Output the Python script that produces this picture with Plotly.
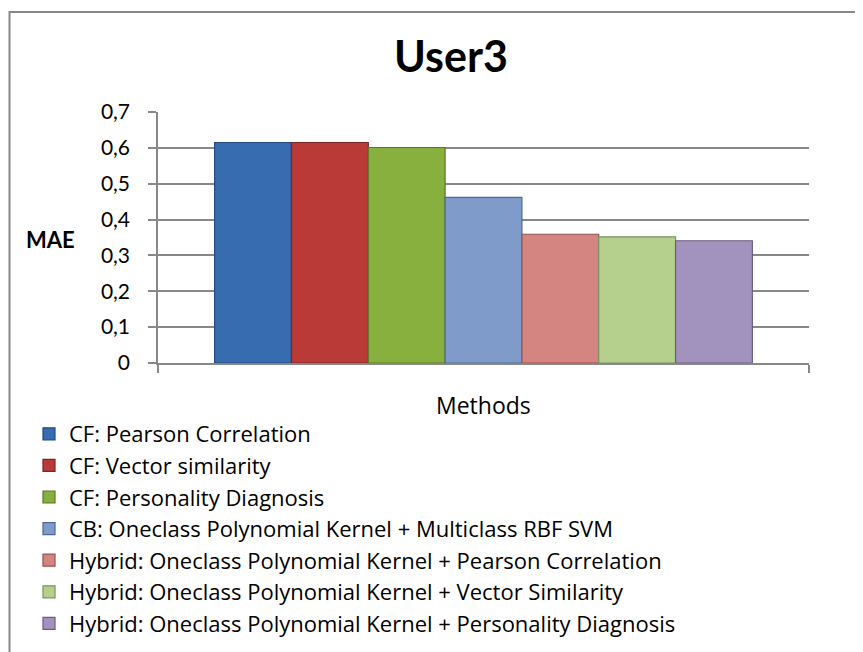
import plotly.graph_objects as go

# Data
METHODS = [
    "CF: Pearson Correlation",
    "CF: Vector similarity",
    "CF: Personality Diagnosis",
    "CB: Oneclass Polynomial Kernel + Multiclass RBF SVM",
    "Hybrid: Oneclass Polynomial Kernel + Pearson Correlation",
    "Hybrid: Oneclass Polynomial Kernel + Vector Similarity",
    "Hybrid: Oneclass Polynomial Kernel + Personality Diagnosis",
]
MAE = [0.615, 0.615, 0.601, 0.462, 0.359, 0.352, 0.341]
Y_TICKS = [0, 0.1, 0.2, 0.3, 0.4, 0.5, 0.6, 0.7]
Y_TICK_TEXT = ["0", "0,1", "0,2", "0,3", "0,4", "0,5", "0,6", "0,7"]

FILLS = ["#386cb0", "#b93a36", "#88b03e", "#7e9bc9", "#d48481", "#b5d08d", "#a192be"]
EDGES = ["#24487a", "#7c2422", "#5a7727", "#50688f", "#94524f", "#7b9460", "#6a5d85"]

GRID = "#888888"
FONT = "Lato, 'Open Sans', sans-serif"
LEG_FONT = "'Open Sans', Lato, sans-serif"

# page is shown with the browser's 8px body margin, so work in page pixels
# and subtract the offset
W, H = 863, 652
OFF = 8
L, R, T, B = 158 - OFF, 809 - OFF, 112 - OFF, 363 - OFF


def px_x(x):
    return (x - OFF - L) / (R - L)


def px_y(y):
    return (B - (y - OFF)) / (B - T)


fig = go.Figure()
for name, val, fill, edge in zip(METHODS, MAE, FILLS, EDGES):
    fig.add_trace(go.Bar(
        x=[0], y=[val], name=name,
        marker=dict(color=fill, line=dict(color=edge, width=1.2)),
        hovertemplate=name + ": %{y:.3f}<extra></extra>",
    ))

# outer chart frame (left and top edges visible, rest runs off the page)
fig.add_shape(
    type="rect", xref="paper", yref="paper",
    x0=px_x(9.5), x1=px_x(W + 40), y0=px_y(H + 40), y1=px_y(12),
    line=dict(color=GRID, width=2), fillcolor="rgba(0,0,0,0)", layer="below",
)

fig.add_annotation(
    text="<b>MAE</b>", xref="paper", yref="paper",
    x=px_x(50), y=px_y(239), showarrow=False,
    xanchor="center", yanchor="middle",
    font=dict(family=FONT, size=22, color="#000000"),
)
fig.add_annotation(
    text="Methods", xref="paper", yref="paper",
    x=0.5, y=px_y(405), showarrow=False,
    xanchor="center", yanchor="middle",
    font=dict(family=LEG_FONT, size=23, color="#000000"),
)

fig.update_layout(
    width=W, height=H,
    paper_bgcolor="#ffffff", plot_bgcolor="#ffffff",
    font=dict(family=FONT, color="#000000"),
    margin=dict(l=L, r=W - R, t=T, b=H - B, autoexpand=False),
    title=dict(
        text="<b>User3</b>", xref="container", yref="container",
        x=(451 - OFF) / W, y=1 - (57 - OFF) / H, xanchor="center", yanchor="middle",
        font=dict(family=FONT, size=43, color="#000000"),
    ),
    barmode="group", bargap=0.174, bargroupgap=0,
    showlegend=True,
    legend=dict(
        x=px_x(29), y=px_y(413), xanchor="left", yanchor="top",
        bgcolor="rgba(0,0,0,0)", borderwidth=0,
        font=dict(family=LEG_FONT, size=22, color="#000000"),
        tracegroupgap=0, traceorder="normal",
    ),
    xaxis=dict(
        range=[-0.5, 0.5], tickvals=[-0.5, 0.5], showticklabels=False,
        ticks="outside", ticklen=8, tickcolor=GRID, tickwidth=1.5,
        showline=True, linecolor=GRID, linewidth=1.5,
        showgrid=False, zeroline=False, fixedrange=True,
    ),
    yaxis=dict(
        range=[0, 0.7], tickvals=Y_TICKS, ticktext=Y_TICK_TEXT,
        ticks="outside", ticklen=8, tickcolor=GRID, tickwidth=1.5,
        ticklabelstandoff=14,
        tickfont=dict(family=FONT, size=21, color="#000000"),
        showline=True, linecolor=GRID, linewidth=1.5,
        showgrid=True, gridcolor=GRID, gridwidth=1.5, zeroline=False,
    ),
)

fig.write_html("out.html")
